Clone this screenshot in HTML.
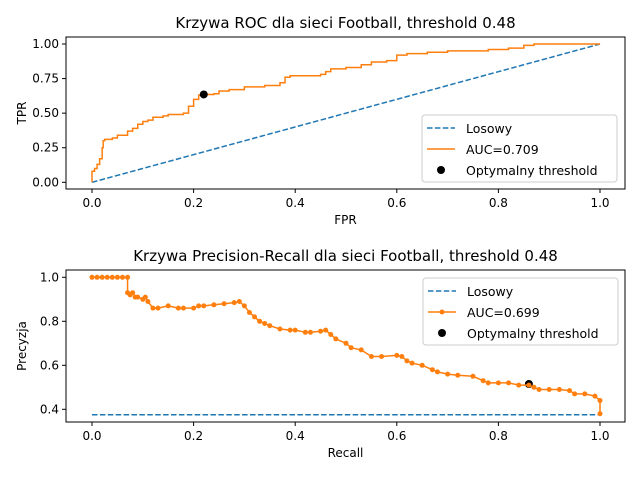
<!DOCTYPE html>
<html><head><meta charset="utf-8"><style>body{margin:0;background:#fff}svg{font-family:"DejaVu Sans","Liberation Sans",sans-serif}</style></head>
<body>
<svg width="640" height="480" viewBox="0 0 640 480" xmlns="http://www.w3.org/2000/svg">
<g id="g"></g>
</svg>
<script>
const rocFpr=[0,0,0.005,0.01,0.015,0.02,0.022,0.025,0.04,0.05,0.07,0.08,0.09,0.1,0.11,0.12,0.14,0.15,0.17,0.18,0.19,0.2,0.21,0.22,0.24,0.25,0.27,0.3,0.34,0.37,0.38,0.39,0.45,0.46,0.47,0.5,0.53,0.55,0.58,0.6,0.62,0.66,0.7,0.78,0.82,0.85,0.87,0.9,1];
const rocTpr=[0,0.05,0.08,0.1,0.13,0.17,0.25,0.3,0.31,0.32,0.34,0.37,0.39,0.42,0.44,0.45,0.47,0.48,0.49,0.49,0.5,0.55,0.6,0.63,0.635,0.64,0.66,0.67,0.69,0.7,0.72,0.76,0.77,0.78,0.8,0.82,0.83,0.85,0.87,0.88,0.92,0.93,0.94,0.95,0.96,0.97,0.99,1,1];
const rocOpt=[0.22,0.635];
const prRec=[0,0.01,0.02,0.03,0.04,0.05,0.06,0.07,0.07,0.075,0.08,0.085,0.09,0.1,0.105,0.11,0.12,0.13,0.15,0.17,0.18,0.2,0.21,0.22,0.24,0.26,0.28,0.29,0.3,0.31,0.32,0.33,0.34,0.35,0.37,0.39,0.4,0.42,0.43,0.45,0.46,0.47,0.48,0.5,0.51,0.53,0.55,0.57,0.6,0.61,0.62,0.63,0.65,0.67,0.68,0.7,0.72,0.75,0.77,0.78,0.8,0.82,0.84,0.86,0.87,0.88,0.9,0.92,0.94,0.95,0.97,0.99,1,1];
const prPrec=[1,1,1,1,1,1,1,1,0.93,0.92,0.93,0.91,0.91,0.9,0.91,0.89,0.86,0.86,0.87,0.86,0.86,0.86,0.87,0.87,0.875,0.88,0.885,0.89,0.87,0.84,0.82,0.8,0.79,0.78,0.765,0.76,0.76,0.75,0.75,0.755,0.76,0.74,0.72,0.7,0.68,0.67,0.64,0.64,0.645,0.64,0.62,0.61,0.6,0.58,0.57,0.56,0.555,0.55,0.53,0.52,0.52,0.52,0.51,0.51,0.5,0.49,0.49,0.49,0.485,0.47,0.47,0.46,0.44,0.38];
const prOpt=[0.86,0.515];
const xTicks=[0,0.2,0.4,0.6,0.8,1.0];
const rocYTicks=[0,0.25,0.5,0.75,1.0];
const prYTicks=[0.4,0.6,0.8,1.0];
const baseline=0.375;

const g=document.getElementById('g');const NS='http://www.w3.org/2000/svg';
function el(t,a,txt){const e=document.createElementNS(NS,t);for(const k in a)e.setAttribute(k,a[k]);if(txt!==undefined)e.textContent=txt;g.appendChild(e);return e;}
const sx=v=>92+v*508;
const syR=v=>182.3-v*138.3;
const syP=v=>409.3-(v-0.4)*220;
function axes(top,bot,sy,yt,fmt,title,xl,yl,name){
  const f=el('rect',{x:66,y:top,width:559,height:bot-top,fill:'none',stroke:'#000','stroke-width':1});
  
  xTicks.forEach(v=>{el('line',{x1:sx(v),x2:sx(v),y1:bot,y2:bot+4,stroke:'#000'});
    const t=el('text',{x:sx(v),y:bot+18,'font-size':12,'text-anchor':'middle'},v.toFixed(1));
    });
  yt.forEach(v=>{el('line',{x1:62,x2:66,y1:sy(v),y2:sy(v),stroke:'#000'});
    const t=el('text',{x:59,y:sy(v)+4,'font-size':12,'text-anchor':'end'},v.toFixed(fmt));
    });
  const ti=el('text',{x:345.5,y:top-9,'font-size':15,'text-anchor':'middle'},title);
  
  const xt=el('text',{x:345.5,y:bot+35,'font-size':12,'text-anchor':'middle'},xl);
  
  const cy=(top+bot)/2;
  const yy=el('text',{x:0,y:0,'font-size':12,'text-anchor':'middle',transform:`translate(26,${cy}) rotate(-90)`},yl);
  
}
function pts(xs,ys,sy){return xs.map((x,i)=>sx(x)+','+sy(ys[i])).join(' ');}
function stepPts(xs,ys,sy){let s=[];xs.forEach((x,i)=>{if(i>0)s.push(sx(xs[i-1])+','+sy(ys[i]));s.push(sx(x)+','+sy(ys[i]));});return s.join(' ');}
// ROC
axes(37,189,syR,rocYTicks,2,'Krzywa ROC dla sieci Football, threshold  0.48','FPR','TPR','roc');
let l=el('line',{x1:sx(0),y1:syR(0),x2:sx(1),y2:syR(1),stroke:'#1f77b4','stroke-width':1.5,'stroke-dasharray':'5.5,2.4'});

l=el('polyline',{points:stepPts(rocFpr,rocTpr,syR),fill:'none',stroke:'#ff7f0e','stroke-width':1.5});

l=el('circle',{cx:sx(rocOpt[0]),cy:syR(rocOpt[1]),r:4,fill:'#000'});

// PR
axes(270,422,syP,prYTicks,1,'Krzywa Precision-Recall dla sieci Football, threshold  0.48','Recall','Precyzja','pr');
l=el('line',{x1:sx(0),y1:syP(baseline),x2:sx(1),y2:syP(baseline),stroke:'#1f77b4','stroke-width':1.5,'stroke-dasharray':'5.5,2.4'});

l=el('circle',{cx:sx(prOpt[0]),cy:syP(prOpt[1]),r:4,fill:'#000'});

l=el('polyline',{points:pts(prRec,prPrec,syP),fill:'none',stroke:'#ff7f0e','stroke-width':1.5});

prRec.forEach((x,i)=>{const c=el('circle',{cx:sx(x),cy:syP(prPrec[i]),r:2.5,fill:'#ff7f0e'});
  });
// legends
function legend(x,y,auc,marker,name){
  const b=el('rect',{x:x,y:y,width:195,height:67,rx:3,fill:'#fff','fill-opacity':0.8,stroke:'#ccc'});
  
  el('line',{x1:x+5,x2:x+33,y1:y+13,y2:y+13,stroke:'#1f77b4','stroke-width':1.5,'stroke-dasharray':'5.5,2.4'});
  let t=el('text',{x:x+44,y:y+18,'font-size':12.5},'Losowy');
  el('line',{x1:x+5,x2:x+33,y1:y+34,y2:y+34,stroke:'#ff7f0e','stroke-width':1.5});
  if(marker)el('circle',{cx:x+19,cy:y+34,r:2.5,fill:'#ff7f0e'});
  t=el('text',{x:x+44,y:y+39,'font-size':12.5},auc);
  el('circle',{cx:x+19,cy:y+55,r:4,fill:'#000'});
  t=el('text',{x:x+44,y:y+60,'font-size':12.5},'Optymalny threshold');
}
legend(422,115,'AUC=0.709',false,'roc-legend');
legend(423,278,'AUC=0.699',true,'pr-legend');
</script>
</body></html>
